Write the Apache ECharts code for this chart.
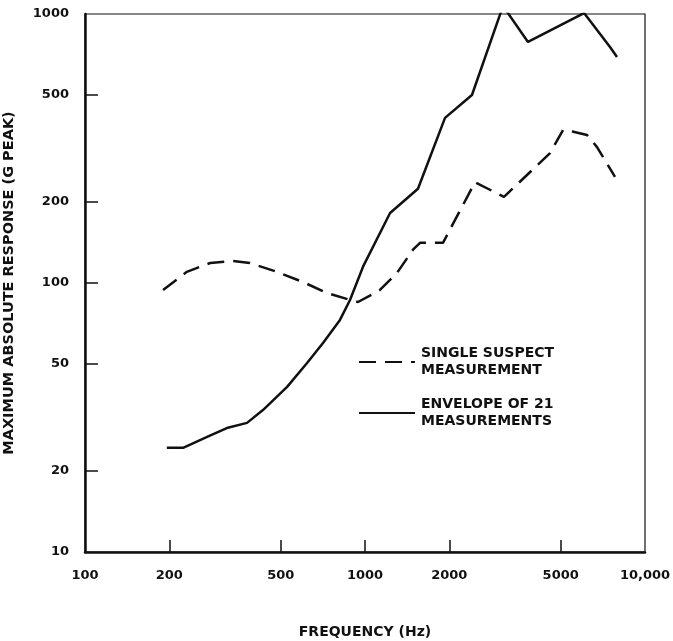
<!DOCTYPE html>
<html>
<head>
<meta charset="utf-8">
<script src="https://cdn.jsdelivr.net/npm/echarts@6/dist/echarts.min.js"></script>
<style>
  html, body { margin: 0; padding: 0; background: #fff; }
  #chart { width: 673px; height: 641px; }
</style>
</head>
<body>
<div id="chart"></div>
<script>
// envelope of 21 measurements (solid)
var envFreq = [196, 224, 273, 321, 379, 432, 527, 621, 708, 814, 884, 984, 1229, 1546, 1931, 2410, 3111, 3820, 6058, 7500, 7943];
var envVals = [24.4, 24.4, 26.8, 28.9, 30.2, 33.7, 41.1, 50.4, 59.8, 72.9, 86.5, 115, 182, 224, 411, 500, 1071, 787, 1008, 754, 692];

// single suspect measurement (dashed)
var susFreq = [190, 231, 280, 338, 388, 485, 600, 732, 884, 944, 1068, 1131, 1301, 1484, 1572, 1899, 2471, 3136, 4579, 5095, 5500, 6207, 6740, 7814];
var susVals = [94.2, 110, 118.7, 120.7, 118.7, 110, 100.9, 91.8, 86.5, 85, 91, 94.2, 109, 133, 141, 141, 237, 209, 304, 370, 366, 355, 320, 248];

var xLabelVals = [100, 200, 500, 1000, 2000, 5000, 10000];
var xTickVals = [200, 500, 1000, 2000, 5000];
var yLabelVals = [10, 20, 50, 100, 200, 500, 1000];
var yTickVals = [20, 50, 100, 200, 500];

function pairs(xs, ys) {
    var out = [];
    for (var i = 0; i < xs.length; i++) out.push([xs[i], ys[i]]);
    return out;
}

var font = 'DejaVu Sans';
var ink = '#111';

var chart = echarts.init(document.getElementById('chart'));
var option = {
    animation: false,
    backgroundColor: '#fff',
    grid: {
        left: 85, top: 14, right: 28, bottom: 89,
        outerBoundsMode: 'none', containLabel: false,
        show: true, borderColor: ink, borderWidth: 1.2
    },
    legend: {
        left: 353, top: 340,
        orient: 'vertical',
        itemWidth: 56, itemHeight: 14, itemGap: 17,
        data: ['SINGLE SUSPECT\nMEASUREMENT', 'ENVELOPE OF 21\nMEASUREMENTS'],
        itemStyle: { color: 'transparent', borderColor: 'transparent', borderWidth: 0 },
        textStyle: { fontFamily: font, fontSize: 14, fontWeight: 'bold', color: ink, lineHeight: 17, padding: [0, 0, 0, 1] }
    },
    xAxis: {
        type: 'log', logBase: 10, min: 100, max: 10000,
        name: 'FREQUENCY (Hz)', nameLocation: 'middle', nameGap: 73,
        nameTextStyle: { fontFamily: font, fontSize: 14, fontWeight: 'bold', color: ink },
        axisLine: { lineStyle: { color: ink, width: 2.5 } },
        axisTick: { inside: true, length: 12, customValues: xTickVals, lineStyle: { color: ink, width: 1.5 } },
        axisLabel: {
            customValues: xLabelVals, margin: 17,
            fontFamily: font, fontSize: 13, fontWeight: 'bold', color: ink,
            formatter: function (v) { return v === 10000 ? '10,000' : String(v); }
        },
        splitLine: { show: false }, minorTick: { show: false }
    },
    yAxis: {
        type: 'log', logBase: 10, min: 10, max: 1000,
        name: 'MAXIMUM ABSOLUTE RESPONSE (G PEAK)', nameLocation: 'middle', nameGap: 68, nameRotate: 90,
        nameTextStyle: { fontFamily: font, fontSize: 14.5, fontWeight: 'bold', color: ink },
        axisLine: { lineStyle: { color: ink, width: 2.5 } },
        axisTick: { inside: true, length: 13, customValues: yTickVals, lineStyle: { color: ink, width: 1.5 } },
        axisLabel: {
            customValues: yLabelVals, margin: 16,
            fontFamily: font, fontSize: 13, fontWeight: 'bold', color: ink,
            formatter: function (v) { return String(v); }
        },
        splitLine: { show: false }, minorTick: { show: false }
    },
    series: [
        {
            name: 'SINGLE SUSPECT\nMEASUREMENT',
            type: 'line',
            symbol: 'none',
            data: pairs(susFreq, susVals),
            lineStyle: { color: ink, width: 2.5, type: [17, 9] },
            itemStyle: { color: ink }
        },
        {
            name: 'ENVELOPE OF 21\nMEASUREMENTS',
            type: 'line',
            symbol: 'none',
            data: pairs(envFreq, envVals),
            lineStyle: { color: ink, width: 2.5 },
            itemStyle: { color: ink }
        }
    ]
};
chart.setOption(option);
window.onresize = function () { chart.resize(); };
</script>
</body>
</html>
